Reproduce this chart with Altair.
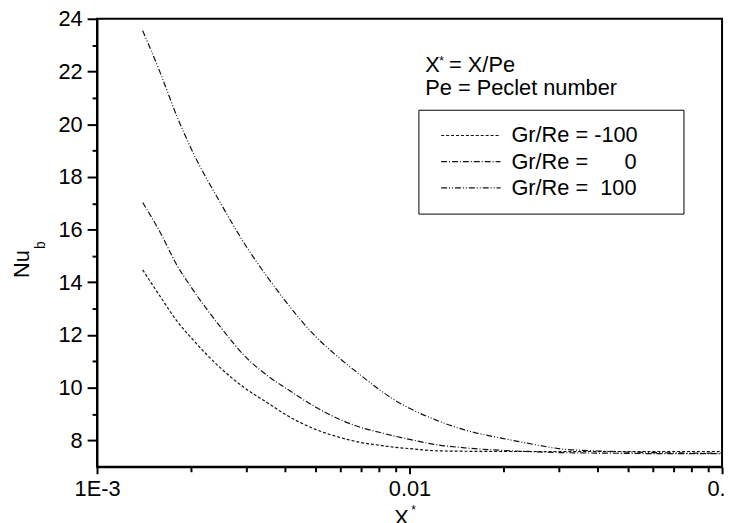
import altair as alt
import pandas as pd

# ---- data ----
x_star = [0.0014, 0.0016, 0.0018, 0.002, 0.0025, 0.003, 0.0035, 0.004, 0.005, 0.006,
          0.007, 0.008, 0.009, 0.01, 0.012, 0.015, 0.02, 0.025, 0.03, 0.04, 0.05,
          0.06, 0.07, 0.08, 0.1]
nu_m100 = [14.47, 13.43, 12.54, 11.90, 10.72, 9.95, 9.44, 8.99, 8.42, 8.11,
           7.92, 7.82, 7.74, 7.69, 7.61, 7.59, 7.58, 7.58, 7.58, 7.58, 7.58,
           7.58, 7.58, 7.58, 7.58]
nu_0 = [17.03, 15.85, 14.66, 13.82, 12.26, 11.15, 10.47, 10.00, 9.27, 8.79,
        8.49, 8.31, 8.16, 8.04, 7.85, 7.72, 7.62, 7.57, 7.54, 7.52, 7.51,
        7.50, 7.50, 7.50, 7.50]
nu_100 = [23.55, 21.90, 20.31, 19.08, 16.95, 15.37, 14.22, 13.30, 11.95, 11.10,
          10.46, 9.93, 9.52, 9.22, 8.80, 8.40, 8.07, 7.85, 7.69, 7.60, 7.56,
          7.54, 7.53, 7.52, 7.52]

NB = "\u00a0"
TAIL = NB * 5 + "\u200b"
series_labels = [
    "Gr/Re = -100" + TAIL,
    "Gr/Re =" + NB * 6 + "0" + TAIL,
    "Gr/Re =" + NB * 2 + "100" + TAIL,
]
series_values = [nu_m100, nu_0, nu_100]
dash_styles = [[3, 2], [6, 2, 1, 2], [6, 2, 1, 2, 1, 2]]

x_major = [0.001, 0.01, 0.1]
x_minor = [0.002, 0.003, 0.004, 0.005, 0.006, 0.007, 0.008, 0.009,
           0.02, 0.03, 0.04, 0.05, 0.06, 0.07, 0.08, 0.09]
y_major = [8, 10, 12, 14, 16, 18, 20, 22, 24]
y_minor = [9, 11, 13, 15, 17, 19, 21, 23]

rows = []
for lab, vals in zip(series_labels, series_values):
    for xv, yv in zip(x_star, vals):
        rows.append({"x": xv, "nu": yv, "series": lab})
df = pd.DataFrame(rows)

FONT = "Liberation Sans"
FS = 22
W, H = 632, 453
TICK = "black"

xscale = alt.Scale(type="log", domain=[0.001, 0.1], nice=False)
yscale = alt.Scale(domain=[7, 24], nice=False, zero=False)

lines = alt.Chart(df).mark_line(color="#111111", strokeWidth=1.2, interpolate="monotone").encode(
    x=alt.X("x:Q", scale=xscale,
            axis=alt.Axis(values=x_major, title=None, orient="bottom", ticks=True,
                          tickSize=7, tickWidth=2, tickColor=TICK, tickOpacity=1,
                          labelExpr="datum.value == 0.001 ? '1E-3' : (datum.value == 0.01 ? '0.01' : '0.1')",
                          labelPadding=5, labelFlush=False, labelOverlap=False)),
    y=alt.Y("nu:Q", scale=yscale,
            axis=alt.Axis(values=y_major, title=None, orient="left", ticks=True,
                          tickSize=10, tickWidth=2, tickColor=TICK, tickOpacity=1,
                          labelPadding=5, labelOverlap=False)),
    strokeDash=alt.StrokeDash("series:N",
                              scale=alt.Scale(domain=series_labels, range=dash_styles),
                              legend=alt.Legend(title=None, orient="none", legendX=325, legendY=92,
                                                direction="vertical",
                                                symbolType="stroke", symbolSize=3600,
                                                symbolStrokeWidth=1.2, symbolStrokeColor="#111111",
                                                symbolOffset=7, labelOffset=10, clipHeight=22,
                                                labelFont=FONT, labelFontSize=FS, labelColor="black",
                                                labelLimit=400, rowPadding=4.5, padding=15,
                                                fillColor="white", strokeColor="black")),
)

minor = alt.Chart(df).mark_line(opacity=0).encode(
    x=alt.X("x:Q", scale=xscale,
            axis=alt.Axis(values=x_minor, title=None, orient="bottom", ticks=True,
                          tickSize=5, tickWidth=2, tickColor=TICK, tickOpacity=1,
                          labels=False, domain=False)),
    y=alt.Y("nu:Q", scale=yscale,
            axis=alt.Axis(values=y_minor, title=None, orient="left", ticks=True,
                          tickSize=5, tickWidth=2, tickColor=TICK, tickOpacity=1,
                          labels=False, domain=False)),
)

def txt(text, x, y, size=FS, angle=0, align="left", baseline="alphabetic"):
    return alt.Chart(pd.DataFrame({"t": [text]})).mark_text(
        font=FONT, fontSize=size, color="black", angle=angle, align=align, baseline=baseline
    ).encode(x=alt.value(x), y=alt.value(y), text="t:N")

annotations = [
    txt("X", 332, 54),
    txt("*", 346, 38, size=12, baseline="top"),
    txt("= X/Pe", 356, 54),
    txt("Pe = Peclet number", 332, 77),
    txt("Nu", -76, 248, angle=270, align="center", baseline="middle"),
    txt("b", -57, 229, size=14, angle=270, align="center", baseline="middle"),
    txt("X", 308, 495, align="center", baseline="top"),
    txt("*", 320, 492, size=12, align="center", baseline="top"),
]

chart = alt.layer(lines, minor, *annotations).resolve_axis(
    x="independent", y="independent"
).properties(
    width=W, height=H,
    autosize=alt.AutoSizeParams(type="none"),
    padding={"left": 90, "top": 8, "right": 4, "bottom": 60},
    background="white",
).configure_view(
    stroke="black", strokeWidth=2
).configure_axis(
    grid=False, domainColor="black", domainWidth=2,
    labelFont=FONT, labelFontSize=FS, labelColor="black",
)

chart.save("out.html", embed_options={"renderer": "svg", "actions": False})
